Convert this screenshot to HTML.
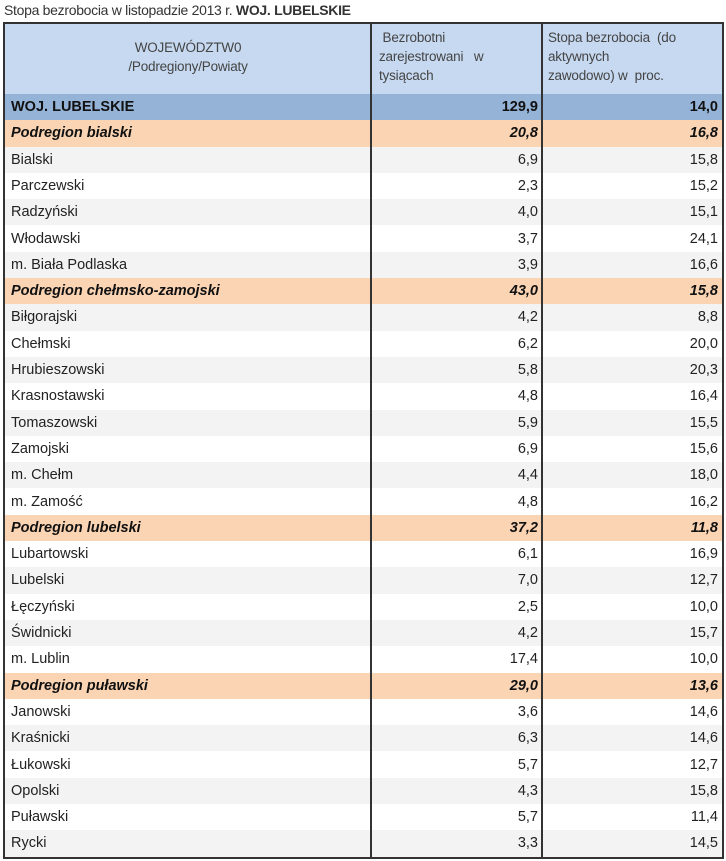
<!DOCTYPE html>
<html><head><meta charset="utf-8"><style>
body{margin:0;width:726px;height:861px;background:#fff;font-family:"Liberation Sans",sans-serif;color:#222;position:relative;overflow:hidden}
#title{position:absolute;left:4px;top:2px;font-size:14px;color:#333;letter-spacing:-0.3px}
#tbl{position:absolute;left:3px;top:22px;width:721px;height:837px;border:2px solid #333;box-sizing:border-box;overflow:hidden}
.hdr{position:absolute;top:0;height:70px;background:#c6d9f0;font-size:13.5px;color:#444;line-height:19px;box-sizing:border-box;letter-spacing:-0.2px}
.row{position:absolute;left:0;width:717px;height:26.3px;font-size:14.5px}
.c{position:absolute;top:0;height:100%;line-height:26px;box-sizing:border-box}
.vl{position:absolute;top:0;bottom:0;width:2px;background:#333}
</style></head><body>
<div id="title">Stopa bezrobocia w listopadzie 2013 r. <b>WOJ. LUBELSKIE</b></div>
<div id="tbl">
<div class="hdr" style="left:0;width:366px;text-align:center;padding-top:14px">WOJEWÓDZTW0<br>/Podregiony/Powiaty</div>
<div class="hdr" style="left:366px;width:171px;padding:4px 0 0 8px">&nbsp;Bezrobotni<br>zarejestrowani &nbsp; w<br>tysiącach</div>
<div class="hdr" style="left:537px;width:180px;padding:4px 0 0 6px">Stopa bezrobocia &nbsp;(do<br>aktywnych<br>zawodowo) w &nbsp;proc.</div>
<div id="rows"></div>
<div class="vl" style="left:365px"></div>
<div class="vl" style="left:536px"></div>
</div>
<script>
const names=["WOJ. LUBELSKIE","Podregion bialski","Bialski","Parczewski","Radzyński","Włodawski","m. Biała Podlaska","Podregion chełmsko-zamojski","Biłgorajski","Chełmski","Hrubieszowski","Krasnostawski","Tomaszowski","Zamojski","m. Chełm","m. Zamość","Podregion lubelski","Lubartowski","Lubelski","Łęczyński","Świdnicki","m. Lublin","Podregion puławski","Janowski","Kraśnicki","Łukowski","Opolski","Puławski","Rycki"];
const unemployed=["129,9","20,8","6,9","2,3","4,0","3,7","3,9","43,0","4,2","6,2","5,8","4,8","5,9","6,9","4,4","4,8","37,2","6,1","7,0","2,5","4,2","17,4","29,0","3,6","6,3","5,7","4,3","5,7","3,3"];
const rates=["14,0","16,8","15,8","15,2","15,1","24,1","16,6","15,8","8,8","20,0","20,3","16,4","15,5","15,6","18,0","16,2","11,8","16,9","12,7","10,0","15,7","10,0","13,6","14,6","14,6","12,7","15,8","11,4","14,5"];
const R=document.getElementById('rows');
names.forEach((n,i)=>{
 const r=document.createElement('div');
 
 
 r.className='row';r.style.top=(70+i*26.3)+'px';
 let bg=(i%2==0)?'#f3f3f3':'#fff',st='';
 if(i==0){bg='#95b3d7';st='font-weight:bold;color:#111';}
 else if(n.startsWith('Podregion')){bg='#fbd4b4';st='font-weight:bold;font-style:italic;color:#111';}
 r.style.background=bg;
 r.innerHTML='<div class="c" style="left:6px;'+st+'">'+n+'</div>'+
 '<div class="c" style="left:366px;width:167px;text-align:right;'+st+'">'+unemployed[i]+'</div>'+
 '<div class="c" style="left:537px;width:176px;text-align:right;'+st+'">'+rates[i]+'</div>';
 R.appendChild(r);
});
</script>
</body></html>
